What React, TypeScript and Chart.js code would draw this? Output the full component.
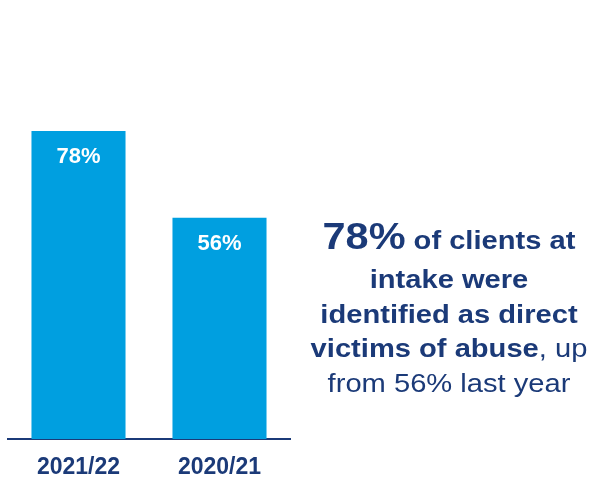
import React, { useEffect, useRef } from "react";
import { Chart, registerables } from "chart.js";

Chart.register(...registerables);

const categories = ["2021/22", "2020/21"];
const values = [78, 56];
const valueLabels = ["78%", "56%"];

const NAVY = "#1B3A78";
const BLUE = "#009FE0";
const FONT = "'Liberation Sans', Arial, sans-serif";

const barLabelPlugin = {
  id: "barLabels",
  afterDatasetsDraw(chart: any) {
    const ctx = chart.ctx;
    const meta = chart.getDatasetMeta(0);
    ctx.save();
    ctx.fillStyle = "#ffffff";
    ctx.font = `bold 22px ${FONT}`;
    ctx.textAlign = "center";
    ctx.textBaseline = "middle";
    meta.data.forEach((bar: any, i: number) => {
      ctx.fillText(valueLabels[i], bar.x, bar.y + 26);
    });
    ctx.restore();
  },
};

export default function App() {
  const ref = useRef<HTMLCanvasElement>(null);
  useEffect(() => {
    if (!ref.current) return;
    const chart = new Chart(ref.current, {
      type: "bar",
      data: {
        labels: categories,
        datasets: [
          {
            data: values,
            backgroundColor: BLUE,
            borderWidth: 0,
            barPercentage: 0.667,
            categoryPercentage: 1,
          },
        ],
      },
      options: {
        responsive: false,
        animation: false,
        devicePixelRatio: 1,
        layout: { padding: { left: 8, right: 305, top: 44, bottom: 0 } },
        plugins: {
          legend: { display: false },
          tooltip: { enabled: false },
        },
        scales: {
          y: { display: false, min: 0, max: 100 },
          x: {
            afterFit: (scale: any) => {
              scale.height = 44;
            },
            grid: { display: false, drawTicks: false },
            border: { display: true, color: NAVY, width: 2 },
            ticks: {
              color: NAVY,
              padding: 15,
              font: { family: FONT, size: 23, weight: "bold" },
            },
          },
        },
      },
      plugins: [barLabelPlugin],
    });
    return () => chart.destroy();
  }, []);

  const lineStyle = (top: number): React.CSSProperties => ({
    position: "absolute",
    left: 449 - 170,
    width: 340,
    top,
    textAlign: "center",
    lineHeight: 1,
    fontSize: 26,
    whiteSpace: "nowrap",
    transform: "scaleX(1.12)",
    transformOrigin: "center",
  });

  return (
    <div
      style={{
        position: "fixed",
        left: 0,
        top: 0,
        width: 595,
        height: 483,
        background: "#fff",
        fontFamily: FONT,
        color: NAVY,
      }}
    >
      <canvas ref={ref} width={595} height={483} style={{ display: "block" }} />
      <div style={{ ...lineStyle(218), fontWeight: "bold" }}>
        <span style={{ fontSize: 37 }}>78%</span> of clients at
      </div>
      <div style={{ ...lineStyle(266), fontWeight: "bold" }}>intake were</div>
      <div style={{ ...lineStyle(301), fontWeight: "bold" }}>identified as direct</div>
      <div style={lineStyle(335)}>
        <span style={{ fontWeight: "bold" }}>victims of abuse</span>, up
      </div>
      <div style={lineStyle(370)}>from 56% last year</div>
    </div>
  );
}
